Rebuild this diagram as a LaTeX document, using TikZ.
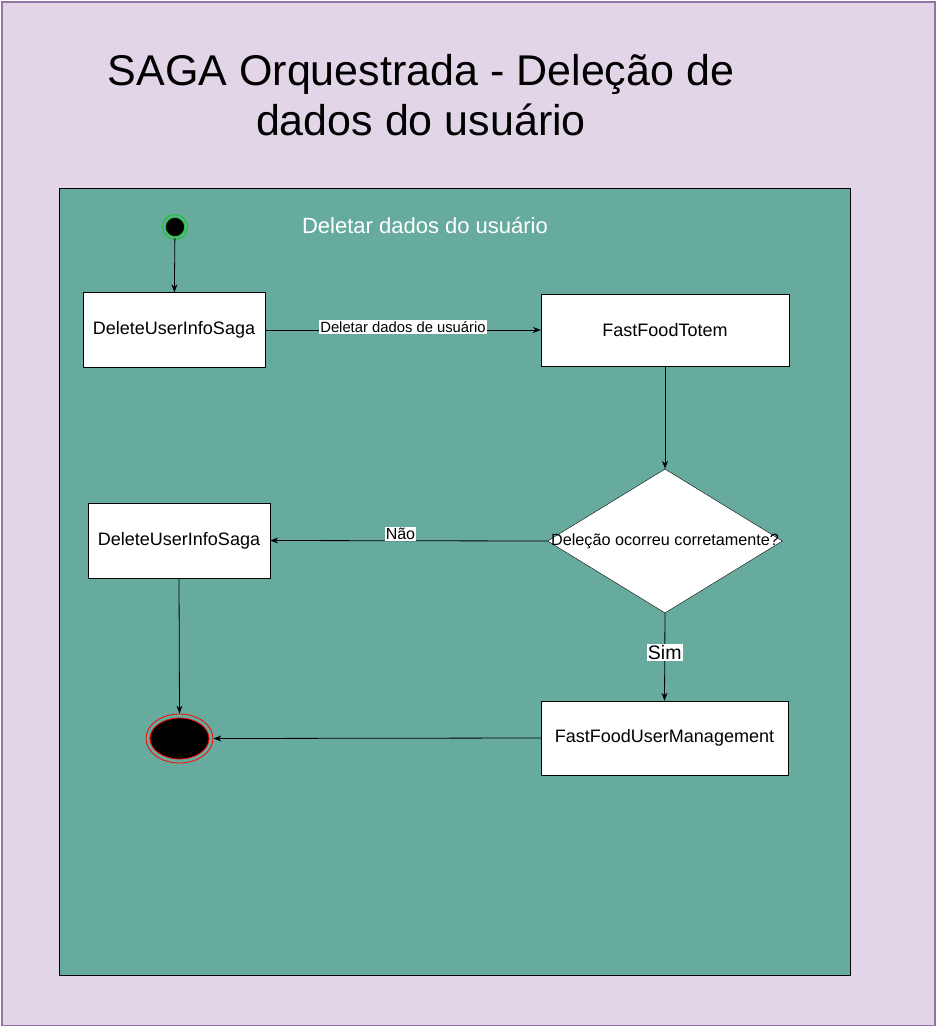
\documentclass[tikz,border=0pt]{standalone}
\usepackage{fontspec}
\setmainfont{Liberation Sans}
\usetikzlibrary{arrows.meta,shapes.geometric}
\definecolor{bgpurple}{HTML}{E1D5E7}
\definecolor{bdpurple}{HTML}{9673A6}
\definecolor{teal}{HTML}{67AB9F}
\begin{document}
\begin{tikzpicture}[x=1pt,y=-1pt,
  box/.style={draw=black,fill=white,minimum width=#1,minimum height=75pt,inner sep=0pt,font=\fontsize{18}{21}\selectfont},
  conn/.style={draw=black,line width=0.8pt,-{Stealth[length=8pt,width=6pt]}},
  lbl/.style={fill=white,inner sep=1pt,text=black}]
\useasboundingbox (0,0) rectangle (935,1026);
\node[draw=bdpurple,fill=bgpurple,line width=1.5pt,minimum width=933pt,minimum height=1024pt,inner sep=0pt,anchor=north west] (bg) at (1,1) {};
\node[draw=black,fill=teal,line width=0.8pt,minimum width=791pt,minimum height=787pt,inner sep=0pt,anchor=north west] (cont) at (59,188) {};
\node[align=center,font=\fontsize{43}{50}\selectfont] (title) at (421,95) {SAGA Orquestrada - Deleção de\\dados do usuário};
\node[text=white,font=\fontsize{22}{26}\selectfont] (ctitle) at (425,226) {Deletar dados do usuário};
\node[circle,fill=black,draw=green!80!black,line width=0.8pt,double=teal,double distance=2pt,minimum size=22pt,inner sep=0pt] (start) at (175,227) {};
\node[box=182pt] (d1) at (174,330) {DeleteUserInfoSaga};
\node[box=248pt,minimum height=72pt] (ft) at (665,330) {FastFoodTotem};
\node[diamond,draw=black,fill=white,minimum width=235pt,minimum height=144pt,inner sep=0pt,aspect=1.63] (dec) at (665,541) {};
\node[font=\fontsize{16.2}{19}\selectfont] (dectext) at (665,541) {Deleção ocorreu corretamente?};
\node[box=182pt] (d2) at (179,540.5) {DeleteUserInfoSaga};
\node[box=247pt,minimum height=74pt] (um) at (664.5,738) {FastFoodUserManagement};
\node[ellipse,draw=red,line width=0.8pt,minimum width=67pt,minimum height=49pt,inner sep=0pt] (endo) at (179.5,738.5) {};
\node[ellipse,fill=black,draw=red,line width=0.8pt,minimum width=59pt,minimum height=41pt,inner sep=0pt] (endi) at (179.5,738.5) {};
\draw[conn] (start) -- (d1);
\draw[conn] (d1) -- node[lbl,font=\fontsize{14.8}{17}\selectfont,yshift=3pt] {Deletar dados de usuário} (ft);
\draw[conn] (ft) -- (dec);
\draw[conn] (dec.west) -- node[lbl,font=\fontsize{16}{19}\selectfont,pos=0.53,yshift=7pt] {Não} (d2.east);
\draw[conn] (dec.south) -- node[lbl,font=\fontsize{19.5}{23}\selectfont,pos=0.45] {Sim} (um.north);
\draw[conn] (d2.south) -- (endo.north);
\draw[conn] (um.west) -- (endo.east);
\end{tikzpicture}
\end{document}
